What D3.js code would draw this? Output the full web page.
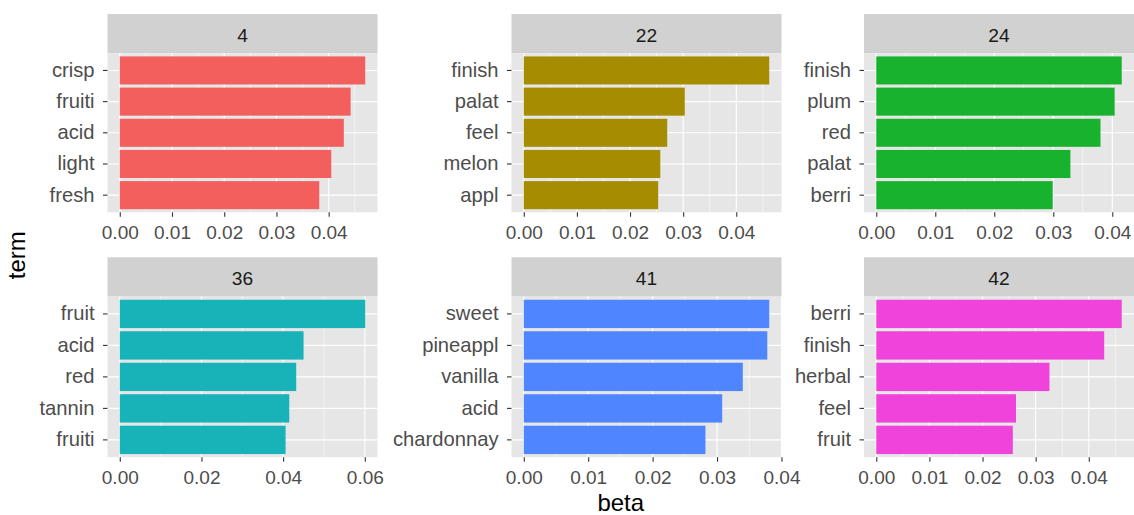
<!DOCTYPE html>
<html>
<head>
<meta charset="utf-8">
<script src="https://cdn.jsdelivr.net/npm/d3@7"></script>
<style>
  body { margin: 0; background: #fff; }
  svg { display: block; font-family: "Liberation Sans", Arial, Helvetica, sans-serif; }
</style>
</head>
<body>
<svg id="chart" width="1134" height="515"></svg>
<script>
// Top five terms per topic, with their per-topic word probability (beta)
const topics = ["4", "22", "24", "36", "41", "42"];

const terms4 = ["crisp", "fruiti", "acid", "light", "fresh"];
const beta4 = [0.0470, 0.0442, 0.0429, 0.0405, 0.0382];

const terms22 = ["finish", "palat", "feel", "melon", "appl"];
const beta22 = [0.0462, 0.0303, 0.0270, 0.0257, 0.0253];

const terms24 = ["finish", "plum", "red", "palat", "berri"];
const beta24 = [0.0416, 0.0404, 0.0380, 0.0329, 0.0299];

const terms36 = ["fruit", "acid", "red", "tannin", "fruiti"];
const beta36 = [0.0601, 0.0450, 0.0432, 0.0415, 0.0406];

const terms41 = ["sweet", "pineappl", "vanilla", "acid", "chardonnay"];
const beta41 = [0.0381, 0.0378, 0.0340, 0.0308, 0.0282];

const terms42 = ["berri", "finish", "herbal", "feel", "fruit"];
const beta42 = [0.0462, 0.0429, 0.0326, 0.0263, 0.0257];

// Axis tick values (beta)
const ticksBy01 = [0, 0.01, 0.02, 0.03, 0.04];
const ticksBy02 = [0, 0.02, 0.04, 0.06];

const topicColors = ["#F25F5C", "#A68C00", "#18B22F", "#18B3B8", "#4F86FF", "#F043DB"];

const termLists = [terms4, terms22, terms24, terms36, terms41, terms42];
const betaLists = [beta4, beta22, beta24, beta36, beta41, beta42];
const tickLists = [ticksBy01, ticksBy01, ticksBy01, ticksBy02, ticksBy01, ticksBy01];

// Facet grid geometry
const colLeft = [107.5, 511.5, 864];
const panelW = 270;
const stripTop = [14, 257.3];
const stripH = 39.3;
const panelH = [159, 160.6];

const svg = d3.select("#chart");
const fmt = d3.format(".2f");

topics.forEach((topic, i) => {
  const col = i % 3, row = Math.floor(i / 3);
  const left = colLeft[col], right = left + panelW;
  const sTop = stripTop[row];
  const pTop = sTop + stripH, pBot = pTop + panelH[row];
  const terms = termLists[i], betas = betaLists[i], ticks = tickLists[i];
  const maxB = d3.max(betas);

  const x = d3.scaleLinear()
    .domain([-0.05 * maxB, 1.05 * maxB])
    .range([left, right]);
  const y = d3.scaleBand()
    .domain(terms)
    .range([pTop, pBot])
    .paddingInner(0.1)
    .paddingOuter(0.1);

  const g = svg.append("g").attr("class", "facet");

  // strip
  g.append("rect")
    .attr("x", left).attr("y", sTop)
    .attr("width", panelW).attr("height", stripH)
    .attr("fill", "#D1D1D1");
  g.append("text")
    .attr("x", (left + right) / 2)
    .attr("y", sTop + stripH / 2 + 1.5)
    .attr("text-anchor", "middle")
    .attr("dominant-baseline", "central")
    .attr("font-size", 19.2)
    .attr("fill", "#1A1A1A")
    .text(topic);

  // panel background
  g.append("rect")
    .attr("x", left).attr("y", pTop)
    .attr("width", panelW).attr("height", pBot - pTop)
    .attr("fill", "#E6E6E6");

  // minor grid lines
  const step = ticks[1] - ticks[0];
  const minors = [];
  for (let k = 0; k < ticks.length; k++) {
    const m = ticks[k] + step / 2;
    if (m <= x.domain()[1]) minors.push(m);
  }
  g.selectAll(".minor").data(minors).join("line")
    .attr("x1", d => x(d)).attr("x2", d => x(d))
    .attr("y1", pTop).attr("y2", pBot)
    .attr("stroke", "#fff").attr("stroke-width", 0.55);

  // major grid lines
  g.selectAll(".vmajor").data(ticks).join("line")
    .attr("x1", d => x(d)).attr("x2", d => x(d))
    .attr("y1", pTop).attr("y2", pBot)
    .attr("stroke", "#fff").attr("stroke-width", 1.1);
  g.selectAll(".hmajor").data(terms).join("line")
    .attr("x1", left).attr("x2", right)
    .attr("y1", d => y(d) + y.bandwidth() / 2)
    .attr("y2", d => y(d) + y.bandwidth() / 2)
    .attr("stroke", "#fff").attr("stroke-width", 1.1);

  // bars
  g.selectAll(".bar").data(terms.map((t, k) => ({ term: t, beta: betas[k] }))).join("rect")
    .attr("x", x(0))
    .attr("y", d => y(d.term))
    .attr("width", d => x(d.beta) - x(0))
    .attr("height", y.bandwidth())
    .attr("fill", topicColors[i]);

  // x axis
  const xAxis = g.append("g")
    .attr("transform", `translate(0,${pBot})`)
    .call(d3.axisBottom(x).tickValues(ticks).tickFormat(fmt).tickSize(4.5).tickPadding(9));
  xAxis.select(".domain").remove();
  xAxis.selectAll(".tick line").attr("stroke", "#333").attr("stroke-width", 1.1);
  xAxis.selectAll(".tick text")
    .attr("font-size", 19)
    .attr("fill", "#4D4D4D")
    .attr("font-family", null);

  // y axis
  const yAxis = g.append("g")
    .attr("transform", `translate(${left},0)`)
    .call(d3.axisLeft(y).tickSize(4.5).tickPadding(8.5));
  yAxis.select(".domain").remove();
  yAxis.selectAll(".tick line").attr("stroke", "#333").attr("stroke-width", 1.1);
  yAxis.selectAll(".tick text")
    .attr("font-size", 20.2)
    .attr("fill", "#4D4D4D")
    .attr("font-family", null);
});

// axis titles
svg.append("text")
  .attr("x", (colLeft[0] + colLeft[2] + panelW) / 2)
  .attr("y", 510.5)
  .attr("text-anchor", "middle")
  .attr("font-size", 24)
  .attr("fill", "#000")
  .text("beta");

svg.append("text")
  .attr("transform", `translate(25,${(stripTop[0] + stripH + stripTop[1] + stripH + panelH[1]) / 2}) rotate(-90)`)
  .attr("text-anchor", "middle")
  .attr("font-size", 24)
  .attr("fill", "#000")
  .text("term");
</script>
</body>
</html>
